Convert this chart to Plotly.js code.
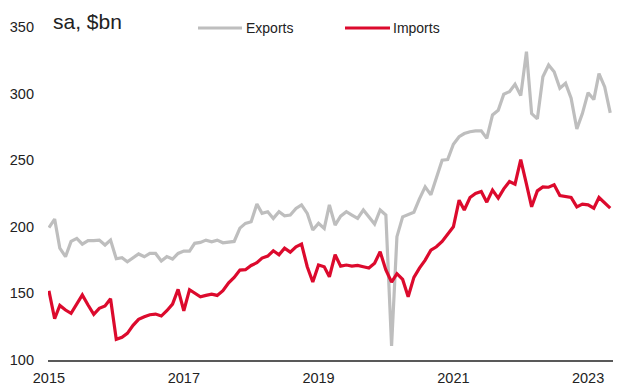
<!DOCTYPE html>
<html>
<head>
<meta charset="utf-8">
<script src="https://cdn.plot.ly/plotly-3.0.1.min.js"></script>
<style>
html,body{margin:0;padding:0;background:#fff;}
#chart{width:620px;height:391px;}
</style>
</head>
<body>
<div id="chart"></div>
<script>
// Monthly, Jan 2015 .. May 2023
const startYear = 2015;
const nMonths = 101;
const seriesNames = ["Exports", "Imports"];
const unitLabel = "sa, $bn";
const tickYears = ["2015", "2017", "2019", "2021", "2023"];

const exportsVals = [
  199.3, 205.8, 184, 177.6, 189, 191.3, 187, 189.6, 189.6, 190, 186.3, 190,
  176, 176.8, 173.8, 176.5, 179.6, 177.5, 180, 180, 174.3, 177.6, 175.8, 180,
  181.8, 181.8, 187.6, 188.3, 190, 188.8, 190, 188, 188.8, 189, 199, 202.6,
  203.8, 217.1, 210.1, 211.3, 206.3, 211.3, 208.3, 208.8, 213.8, 216.4, 210.1, 197.6,
  202.6, 198.8, 216.4, 201.3, 208, 211.3, 208.8, 206.3, 212.6, 207.6, 202.1, 212.6,
  208.8, 110.5, 192.6, 207.5, 209, 211, 221, 230, 224, 237, 250, 250.5,
  262, 267.6, 270, 271.4, 272, 272, 266.4, 284, 287.5, 299.5, 301.5, 307,
  298.5, 331.5, 285, 281, 312.7, 321.5, 316.4, 304, 307.7, 296.5, 273.5, 285,
  300.7, 295.5, 315, 305, 285.5
];

const importsVals = [
  152, 131, 141, 137.5, 135, 142, 148.8, 141.3, 134.3, 138.8, 140.5, 146,
  115.5, 117, 120, 126, 130.5, 132.5, 134, 134.5, 133, 137, 142, 153,
  137, 152.8, 150, 147.5, 148.5, 149.5, 148.5, 152, 158, 162, 167.5, 167.8,
  171, 173, 176.5, 178, 182, 179, 184, 181, 185, 187, 170, 158.5,
  171.3, 170, 162.5, 179, 170.5, 171.3, 170.5, 171, 170, 169, 172.6, 181.3,
  167.6, 158.5, 164.8, 160.5, 147.5, 162, 169, 175, 182.5, 185, 189, 194,
  200, 220, 212.6, 222, 225, 226.5, 218.5, 227.5, 221.5, 228.5, 234, 232,
  250.5, 232, 215, 227, 230, 229.7, 231.5, 223.5, 222.5, 222, 215, 217,
  216.5, 214, 222, 218, 214
];

const dates = [];
for (let i = 0; i < nMonths; i++) {
  const y = startYear + Math.floor(i / 12);
  const m = (i % 12) + 1;
  dates.push(y + "-" + String(m).padStart(2, "0") + "-01");
}

const GREY = "#BEBEBE";
const RED = "#DC0A2D";
const FONT = "Liberation Sans, Arial, sans-serif";
const TXT = "#222222";

const traces = [
  {x: dates, y: exportsVals, name: seriesNames[0], type: "scatter", mode: "lines",
   line: {color: GREY, width: 3.2}, showlegend: false},
  {x: dates, y: importsVals, name: seriesNames[1], type: "scatter", mode: "lines",
   line: {color: RED, width: 3.2}, showlegend: false}
];

const legY = (360.5 - 28) / 333.5;

const layout = {
  width: 620, height: 391,
  margin: {l: 48, r: 7, t: 27, b: 31, pad: 0},
  paper_bgcolor: "#fff", plot_bgcolor: "#fff",
  font: {family: FONT, size: 14, color: TXT},
  xaxis: {
    type: "date",
    range: ["2014-12-27", "2023-05-16"],
    tickvals: tickYears.map(y => y + "-01-01"),
    ticktext: tickYears,
    showgrid: false, zeroline: false,
    showline: true, linecolor: "#595959", linewidth: 2,
    ticks: "", ticklabelstandoff: 4,
    tickfont: {family: FONT, size: 14.5, color: TXT}
  },
  yaxis: {
    range: [100, 350],
    tickvals: [100, 150, 200, 250, 300, 350],
    showgrid: false, zeroline: false, showline: false,
    ticks: "", ticklabelstandoff: 13,
    tickfont: {family: FONT, size: 14.5, color: TXT}
  },
  shapes: [
    {type: "line", xref: "paper", yref: "paper", x0: (198-48)/565, x1: (242-48)/565,
     y0: legY, y1: legY, line: {color: GREY, width: 3.2}},
    {type: "line", xref: "paper", yref: "paper", x0: (345-48)/565, x1: (390-48)/565,
     y0: legY, y1: legY, line: {color: RED, width: 3.2}}
  ],
  annotations: [
    {text: unitLabel, xref: "paper", yref: "paper", x: (51-48)/565, y: (360.5-21)/333.5,
     xanchor: "left", yanchor: "middle", showarrow: false,
     font: {family: FONT, size: 21, color: TXT}},
    {text: seriesNames[0], xref: "paper", yref: "paper", x: (244-48)/565, y: legY,
     xanchor: "left", yanchor: "middle", showarrow: false,
     font: {family: FONT, size: 14, color: TXT}},
    {text: seriesNames[1], xref: "paper", yref: "paper", x: (391-48)/565, y: legY,
     xanchor: "left", yanchor: "middle", showarrow: false,
     font: {family: FONT, size: 14, color: TXT}}
  ]
};

Plotly.newPlot("chart", traces, layout, {displayModeBar: false, staticPlot: true});
</script>
</body>
</html>
